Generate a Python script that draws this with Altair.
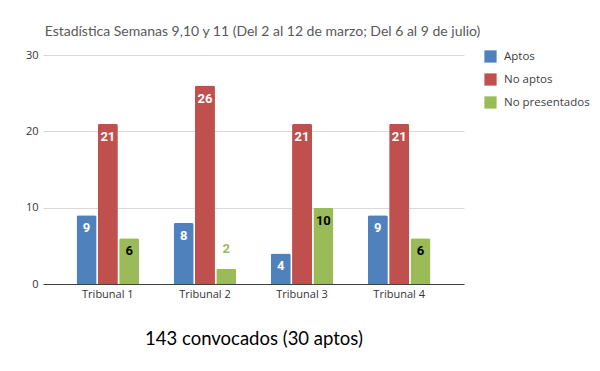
import altair as alt
import pandas as pd

categories = ["Tribunal 1", "Tribunal 2", "Tribunal 3", "Tribunal 4"]
series = ["Aptos", "No aptos", "No presentados"]
aptos = [9, 8, 4, 9]
no_aptos = [21, 26, 21, 21]
no_presentados = [6, 2, 10, 6]
colors = ["#4F81BD", "#C0504D", "#9BBB59"]

title_text = "Estadística Semanas 9,10 y 11 (Del 2 al 12 de marzo; Del 6 al 9 de julio)"
bottom_text = "143 convocados (30 aptos)"

rows = []
for s, vals in zip(series, [aptos, no_aptos, no_presentados]):
    for c, v in zip(categories, vals):
        rows.append({"Tribunal": c, "Serie": s, "Valor": v})
df = pd.DataFrame(rows)

x_enc = alt.X("Tribunal:N", sort=categories,
              scale=alt.Scale(paddingInner=0, paddingOuter=0.168),
              axis=alt.Axis(title=bottom_text, labelAngle=0, ticks=False,
                            domainColor="#404040", domainWidth=1,
                            labelFont="Open Sans", labelFontSize=11, labelColor="#333333",
                            labelPadding=4, titleFont="Lato", titleFontSize=18.5,
                            titleFontWeight="normal", titleColor="#000000",
                            titlePadding=30))
xo_enc = alt.XOffset("Serie:N", sort=series,
                     scale=alt.Scale(paddingInner=0.06, paddingOuter=0.81))
y_enc = alt.Y("Valor:Q", scale=alt.Scale(domain=[0, 30]),
              axis=alt.Axis(values=[0, 10, 20, 30], title=None, domain=False, ticks=False,
                            gridColor="#D9D9D9", gridWidth=1,
                            labelFont="Open Sans", labelFontSize=11, labelColor="#333333",
                            labelPadding=5))

base = alt.Chart(df)

bars = base.mark_bar(cornerRadiusTopLeft=2, cornerRadiusTopRight=2).encode(
    x=x_enc, xOffset=xo_enc, y=y_enc,
    color=alt.Color("Serie:N", sort=series,
                    scale=alt.Scale(domain=series, range=colors),
                    legend=alt.Legend(title=None, orient="none", legendX=441, legendY=-5,
                                      symbolType="square", symbolSize=150,
                                      symbolStrokeWidth=0, padding=0, rowPadding=10,
                                      labelFont="Open Sans", labelFontSize=11.5,
                                      labelColor="#404040", labelOffset=7)),
)

text_props = dict(font="Roboto", fontSize=13, fontWeight="bold", baseline="middle", align="center")

inside_white = base.transform_filter(
    "datum.Serie != 'No presentados' && datum.Valor >= 3"
).mark_text(color="#FFFFFF", dy=13, **text_props).encode(
    x=alt.X("Tribunal:N", sort=categories), xOffset=alt.XOffset("Serie:N", sort=series),
    y="Valor:Q", text="Valor:Q")

inside_black = base.transform_filter(
    "datum.Serie == 'No presentados' && datum.Valor >= 3"
).mark_text(color="#000000", dy=13, **text_props).encode(
    x=alt.X("Tribunal:N", sort=categories), xOffset=alt.XOffset("Serie:N", sort=series),
    y="Valor:Q", text="Valor:Q")

outside = base.transform_filter(
    "datum.Valor < 3"
).mark_text(color="#9BBB59", dy=-20, **text_props).encode(
    x=alt.X("Tribunal:N", sort=categories), xOffset=alt.XOffset("Serie:N", sort=series),
    y="Valor:Q", text="Valor:Q")

chart = alt.layer(bars, inside_white, inside_black, outside).properties(
    width=421, height=229,
    title=alt.TitleParams(title_text, anchor="middle", dx=9, offset=10,
                          font="Lato", fontSize=14, fontWeight="normal",
                          color="#595959"),
    autosize=alt.AutoSizeParams(type="none"),
    padding={"left": 35, "top": 47, "right": 128, "bottom": 79},
).configure_view(stroke=None).configure_axisX(grid=False)

chart.save("out.html", embed_options={"renderer": "svg", "actions": False})
